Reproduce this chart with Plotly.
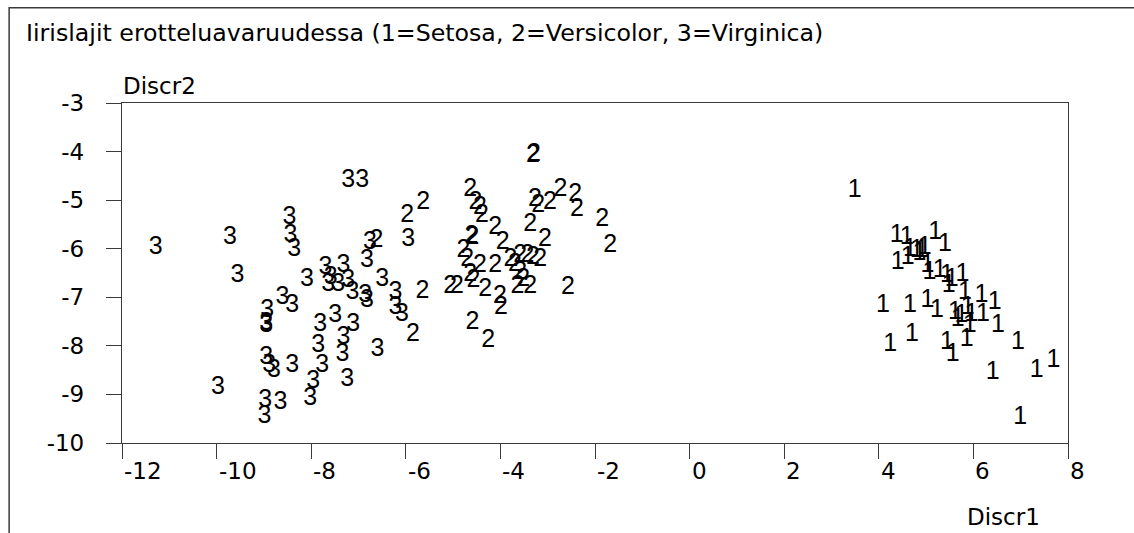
import plotly.graph_objects as go

# Discriminant scores of the iris flowers, one pair of lists per species
setosa_d1 = [3.49, 4.38, 4.59, 5.19, 5.40, 4.66, 4.80, 4.91, 4.97, 4.40, 4.61, 5.03, 5.07,
             5.29, 5.44, 5.54, 5.77, 5.82, 4.09, 4.66, 5.03, 5.23, 5.61, 5.75, 5.88, 5.96,
             6.17, 6.20, 6.45, 5.92, 5.86, 5.44, 5.56, 4.24, 4.70, 6.52, 6.94, 6.41, 7.34,
             7.69, 6.99, 4.86, 5.48, 5.67]
setosa_d2 = [-4.81, -5.73, -5.78, -5.67, -5.92, -6.02, -6.04, -6.04, -5.98, -6.29, -6.19,
             -6.35, -6.50, -6.46, -6.56, -6.64, -6.54, -6.91, -7.18, -7.18, -7.08, -7.28,
             -7.32, -7.38, -7.22, -7.36, -6.97, -7.36, -7.12, -7.59, -7.88, -7.94, -8.19,
             -7.98, -7.78, -7.59, -7.94, -8.56, -8.52, -8.31, -9.49, -6.11, -6.76, -7.46]

versicolor_d1 = [-3.31, -3.29, -4.64, -4.53, -4.43, -4.39, -5.63, -5.97, -6.62, -3.27, -3.20,
                 -2.95, -2.73, -2.42, -2.38, -1.85, -1.68, -3.37, -3.06, -4.11, -3.95, -4.59,
                 -4.61, -4.78, -4.70, -4.43, -4.11, -4.64, -3.79, -3.58, -3.43, -3.31, -3.16,
                 -3.69, -3.58, -3.52, -3.37, -3.64, -5.06, -4.92, -4.57, -4.32, -4.01, -3.99,
                 -2.57, -5.65, -4.59, -4.26, -5.85]
versicolor_d2 = [-4.09, -4.07, -4.79, -5.05, -5.16, -5.32, -5.05, -5.32, -5.84, -4.99, -5.12,
                 -5.05, -4.79, -4.89, -5.20, -5.40, -5.94, -5.51, -5.82, -5.57, -5.88, -5.78,
                 -5.76, -6.04, -6.23, -6.35, -6.35, -6.54, -6.23, -6.15, -6.15, -6.19, -6.23,
                 -6.33, -6.50, -6.64, -6.79, -6.79, -6.79, -6.79, -6.66, -6.85, -6.99, -7.22,
                 -6.81, -6.89, -7.53, -7.90, -7.78]

virginica_d1 = [-11.29, -9.72, -9.56, -8.46, -8.44, -8.36, -8.09, -8.61, -8.40, -8.93, -8.95,
                -8.95, -8.95, -8.89, -8.79, -8.40, -9.97, -8.97, -8.65, -8.99, -8.02, -7.96,
                -7.77, -7.85, -7.81, -7.49, -7.11, -7.32, -7.34, -7.24, -6.60, -7.22, -6.92,
                -5.95, -6.76, -6.82, -7.70, -7.32, -7.59, -7.64, -7.43, -7.22, -7.13, -6.86,
                -6.82, -6.50, -6.22, -6.22, -6.08]
virginica_d2 = [-5.98, -5.78, -6.56, -5.36, -5.73, -6.02, -6.64, -7.01, -7.18, -7.28, -7.55,
                -7.58, -8.25, -8.40, -8.52, -8.40, -8.87, -9.14, -9.18, -9.45, -9.08, -8.73,
                -8.40, -8.00, -7.57, -7.38, -7.57, -7.84, -8.19, -8.70, -8.09, -4.60, -4.60,
                -5.82, -5.88, -6.25, -6.39, -6.35, -6.60, -6.75, -6.75, -6.66, -6.91, -6.97,
                -7.08, -6.64, -6.91, -7.22, -7.36]

x_ticks = [-12, -10, -8, -6, -4, -2, 0, 2, 4, 6, 8]
y_ticks = [-3, -4, -5, -6, -7, -8, -9, -10]

POINT_FONT = "Arial, Liberation Sans, sans-serif"
LABEL_FONT = "DejaVu Sans, sans-serif"
INK = "#000000"
AXIS = "#3a3a3a"

fig = go.Figure()
for label, xs, ys in [("1", setosa_d1, setosa_d2),
                      ("2", versicolor_d1, versicolor_d2),
                      ("3", virginica_d1, virginica_d2)]:
    fig.add_trace(go.Scatter(
        x=xs, y=ys, mode="text", text=[label] * len(xs),
        textposition="middle center",
        textfont=dict(family=POINT_FONT, size=25, color=INK),
        hoverinfo="skip", showlegend=False, cliponaxis=False,
    ))

fig.update_xaxes(
    range=[-12, 8], tickvals=x_ticks, showticklabels=False,
    showgrid=False, zeroline=False, showline=True, linecolor=AXIS, linewidth=1.3,
    mirror=True, ticks="outside", ticklen=15, tickwidth=1.3, tickcolor=AXIS,
)
fig.update_yaxes(
    range=[-10, -3], tickvals=y_ticks, ticktext=[str(v) for v in y_ticks],
    showgrid=False, zeroline=False, showline=True, linecolor=AXIS, linewidth=1.3,
    mirror=True, ticks="outside", ticklen=15, tickwidth=1.3, tickcolor=AXIS,
    tickfont=dict(family=LABEL_FONT, size=23, color=INK), ticklabelstandoff=17,
)

# x tick labels start at their tick mark
for v in x_ticks:
    fig.add_annotation(text=str(v), x=v, xref="x", yref="paper", y=-0.083,
                       xanchor="left", yanchor="middle", showarrow=False,
                       font=dict(family=LABEL_FONT, size=23, color=INK))

# Left and top edges of the frame around the whole figure
fig.add_shape(type="rect", xref="paper", yref="paper",
              x0=-0.1193, y0=-0.301, x1=1.08, y1=1.2802,
              line=dict(color=AXIS, width=1.5), fillcolor="rgba(0,0,0,0)", layer="below")

fig.add_annotation(text="Iirislajit erotteluavaruudessa (1=Setosa, 2=Versicolor, 3=Virginica)",
                   xref="paper", yref="paper", x=-0.1035, y=1.207,
                   xanchor="left", yanchor="middle", showarrow=False,
                   font=dict(family=LABEL_FONT, size=23.7, color=INK))
fig.add_annotation(text="Discr2", xref="paper", yref="paper", x=-0.001, y=1.05,
                   xanchor="left", yanchor="middle", showarrow=False,
                   font=dict(family=LABEL_FONT, size=23, color=INK))
fig.add_annotation(text="Discr1", xref="paper", yref="paper", x=0.8912, y=-0.219,
                   xanchor="left", yanchor="middle", showarrow=False,
                   font=dict(family=LABEL_FONT, size=23, color=INK))

fig.update_layout(
    width=1134, height=533, autosize=False,
    margin=dict(l=122, r=66, t=103, b=90),
    paper_bgcolor="white", plot_bgcolor="white",
    hovermode=False, showlegend=False,
)

fig.write_html("out.html", config={"displayModeBar": False})
